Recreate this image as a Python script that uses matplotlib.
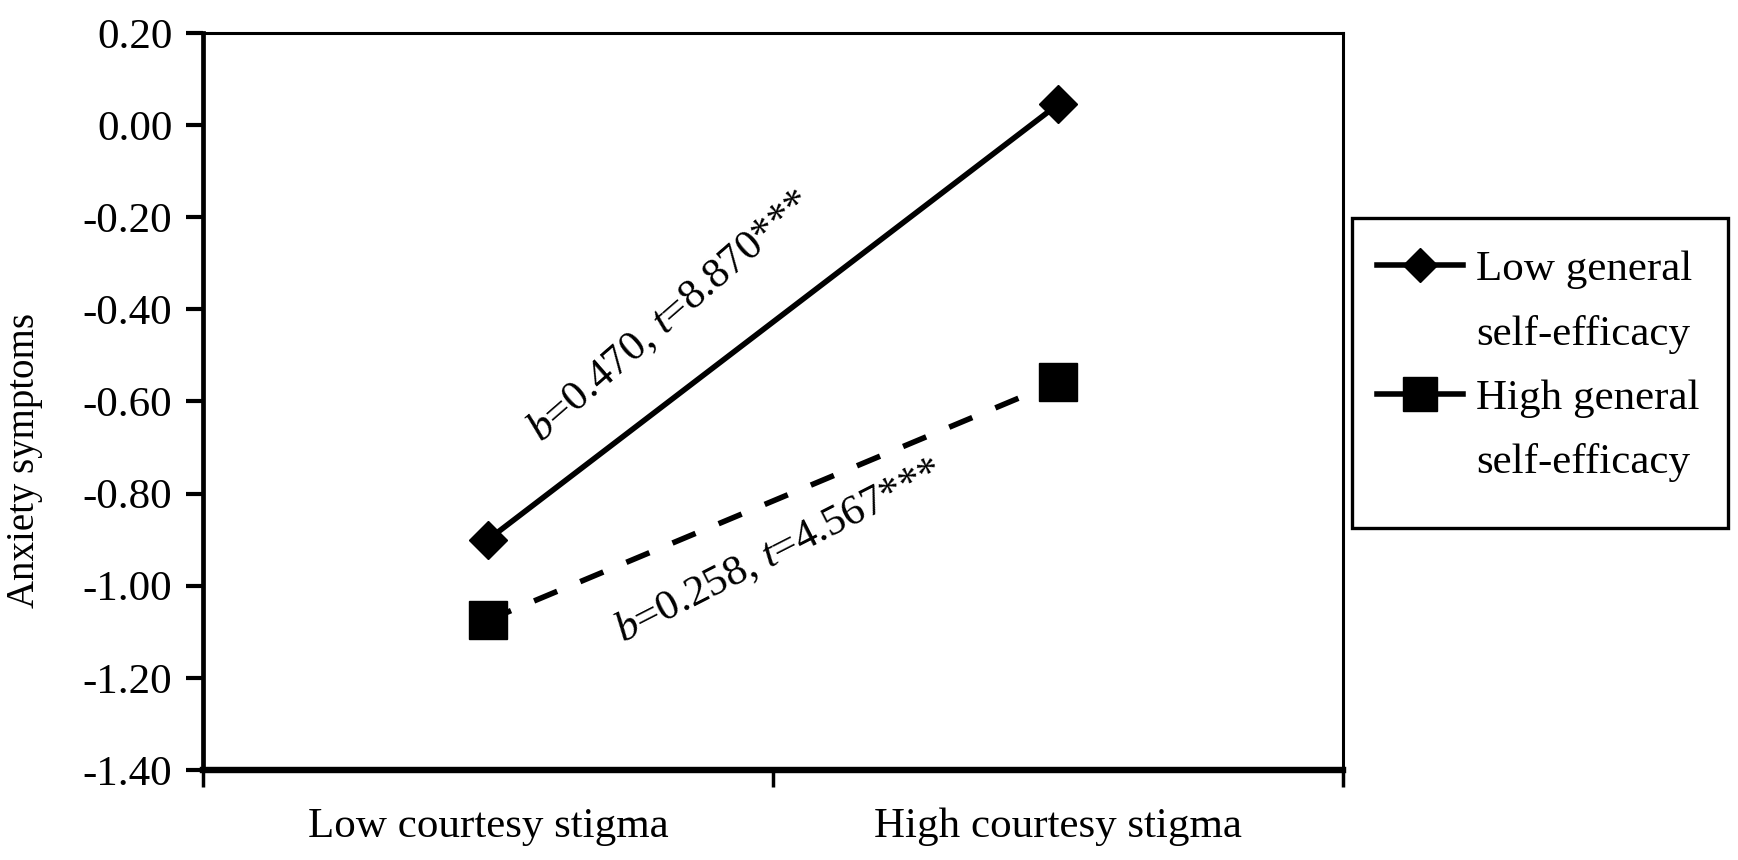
import matplotlib
matplotlib.use("Agg")
import matplotlib.pyplot as plt
from matplotlib.lines import Line2D
from matplotlib.patches import Rectangle

plt.rcParams['font.family'] = ['Liberation Serif', 'DejaVu Serif']
plt.rcParams['mathtext.fontset'] = 'custom'
plt.rcParams['mathtext.rm'] = 'Liberation Serif'
plt.rcParams['mathtext.it'] = 'Liberation Serif:italic'

# data
categories = ['Low courtesy stigma', 'High courtesy stigma']
x_pos = [0.5, 1.5]
low_efficacy = [-0.90, 0.045]
high_efficacy = [-1.075, -0.557]
series_labels = ['Low general\nself-efficacy', 'High general\nself-efficacy']
slope_labels = ['$b$=0.470, $t$=8.870***', '$b$=0.258, $t$=4.567***']
y_ticks = [0.20, 0.00, -0.20, -0.40, -0.60, -0.80, -1.00, -1.20, -1.40]

fs = 31

fig = plt.figure(figsize=(17.38, 8.6), dpi=100)
ax = fig.add_axes([0.1168, 0.1047, 0.7727 - 0.1168, 0.9616 - 0.1047])

ax.plot(x_pos, low_efficacy, color='black', lw=4, marker='D', ms=19,
        solid_capstyle='butt')
ax.plot(x_pos, high_efficacy, color='black', lw=4, marker='s', ms=27,
        dashes=(4.5, 4.5), dash_capstyle='butt')

ax.set_xlim(0, 2)
ax.set_ylim(-1.40, 0.20)
ax.set_yticks(y_ticks)
ax.set_yticklabels(['%.2f' % v for v in y_ticks])
ax.set_xticks([0, 1, 2])
ax.set_xticklabels([])
ax.set_xticks(x_pos, minor=True)
ax.set_xticklabels(categories, minor=True)
ax.tick_params(axis='x', which='minor', length=0, pad=27, labelsize=fs)
ax.tick_params(axis='x', which='major', direction='out', length=12, width=2.5)
ax.tick_params(axis='y', direction='out', length=12, width=3, pad=10,
               labelsize=fs)

ax.spines['left'].set_linewidth(3.4)
ax.spines['bottom'].set_linewidth(4.6)
ax.spines['top'].set_linewidth(2.2)
ax.spines['right'].set_linewidth(2.2)

# slope annotations
ax.text(0.82, -0.414, slope_labels[0], rotation=41, fontsize=fs,
        ha='center', va='center', rotation_mode='anchor')
ax.text(1.01, -0.925, slope_labels[1], rotation=27, fontsize=fs,
        ha='center', va='center', rotation_mode='anchor')

fig.text(0.014, 1 - 461 / 860, 'Anxiety symptoms', rotation=90,
         fontsize=28, ha='center', va='center')

# legend: box drawn separately, one row per text line
fig.patches.append(Rectangle((0.778, 0.386), 0.9945 - 0.778, 0.7465 - 0.386,
                             transform=fig.transFigure, fill=False,
                             edgecolor='black', lw=2.4))
handles = [
    Line2D([], [], color='black', lw=4, marker='D', ms=17),
    Line2D([], [], linestyle='none'),
    Line2D([], [], color='black', lw=4, marker='s', ms=25),
    Line2D([], [], linestyle='none'),
]
labels = []
for s in series_labels:
    labels.extend(s.split('\n'))
fig.legend(handles, labels, loc='upper left', bbox_to_anchor=(0.775, 0.744),
           frameon=False, fontsize=fs, handlelength=2.0, handletextpad=0.3,
           labelspacing=0.58, borderpad=0.2)

fig.savefig('out.png', dpi=100, facecolor='white')
